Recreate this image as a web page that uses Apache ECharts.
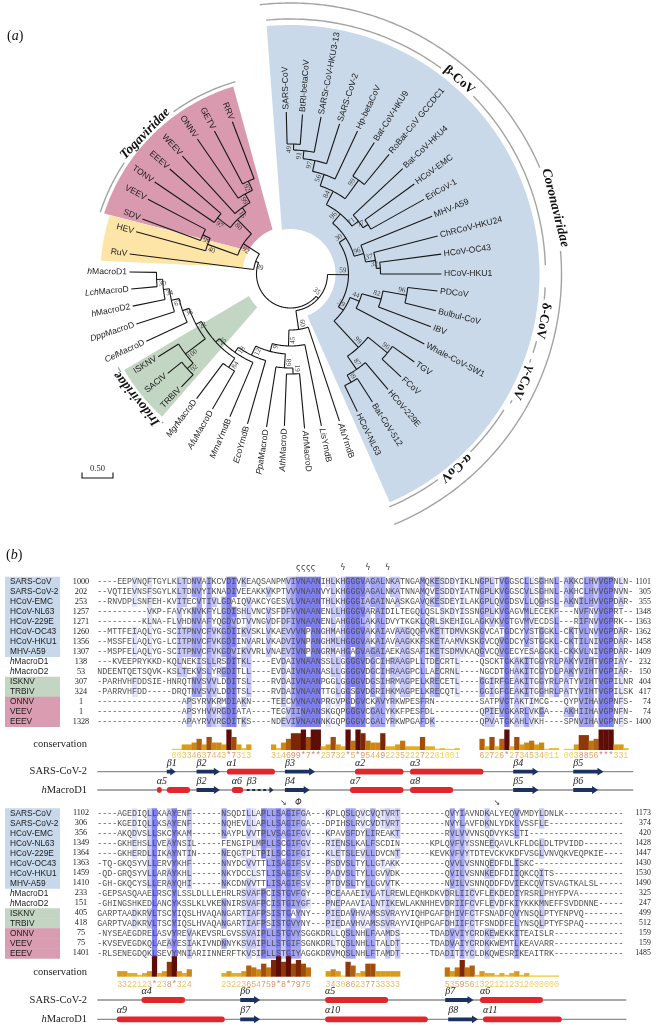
<!DOCTYPE html>
<html>
<head>
<meta charset="utf-8">
<script src="https://cdn.jsdelivr.net/npm/echarts@6.0.0/dist/echarts.min.js"></script>
<style>
html,body{margin:0;padding:0;background:#fff;}
#chart{width:656px;height:1026px;}
</style>
</head>
<body>
<div id="chart"></div>
<script>
// ================= Panel (a): phylogenetic tree data =================
const leafNames = ['SARS-CoV','BtRl-betaCoV','SARSr-CoV-HKU3-13','SARS-CoV-2','Hp-betaCoV','Bat-CoV-HKU9','RoBat-CoV GCCDC1','Bat-CoV-HKU4','HCoV-EMC','EriCoV-1','MHV-A59','ChRCoV-HKU24','HCoV-OC43','HCoV-HKU1','PDCoV','Bulbul-CoV','IBV','Whale-CoV-SW1','TGV','FCoV','HCoV-229E','Bat-CoV-512','HCoV-NL63','AfuYmdB','LisYmdB','AtrMacroD','AthMacroD','PpaMacroD','EcoYmdB','MmaYmdB','AfuMacroD','MgrMacroD','TRBIV','SACIV','ISKNV','CelMacroD','DppMacroD','hMacroD2','LchMacroD','hMacroD1','RuV','HEV','SDV','VEEV','TONV','EEEV','WEEV','ONNV','GETV','RRV'];
const leafAngles = [91.5,85.7,79,71.9,64.9,57.5,50.5,43.2,36,29.2,22.2,14.5,7.5,0,-6.6,-14.2,-20.6,-27.6,-35.4,-42.9,-49.8,-57.4,-64.1,-71.6,-78.5,-84.8,-92.3,-98.9,-106,-113,-120,-127,-134,-141,-148,-155,-162,-168.5,-174.6,-180.7,-187.1,-195.3,-200.4,-207.7,-214.1,-221,-227.5,-235.4,-242,-249.1];
const leafDepths = [162,160,160,158,158,156,155,154,153,153,153,152,152,151,148,150,150,151,152,151,151,152,153,155,155,155,152,155,156,155,156,156,157,158,156,159,162,161,160,161,162,160,158,161,164,160,160,164,162,163];

const nodeIds = ['n49','n91','n97','n56','n99b','n84b','n77','n71','n96a','n32','n37','n96b','n30','n96d','n82','n44','n96g','n69','n87','n99a','n39c','n59',
 'n30m','n34','n67','n36','n92i','n100','n22','n84m','n25','n18','n12','n19','n68','n9','n45','n60','n35',
 'n92a','n99t','n15','n97t','n80','n99s','n40','n92b','n39','root'];
const nodeDepths = [130,124,116,105,116,93,92,86,78,90,86,76,66,118,94,74,125,124,116,100,64,58,
 134,128,122,114,140,132,107,112,101,96,90,100,94,80,72,56,37,
 102,92,82,92,76,96,88,56,37,34];
const nodeChildren = [
 ['SARS-CoV','BtRl-betaCoV'],['n49','SARSr-CoV-HKU3-13'],['n91','SARS-CoV-2'],['n97','Hp-betaCoV'],['Bat-CoV-HKU9','RoBat-CoV GCCDC1'],['n56','n99b'],['HCoV-EMC','EriCoV-1'],['Bat-CoV-HKU4','n77'],['n84b','n71'],['HCoV-OC43','HCoV-HKU1'],['ChRCoV-HKU24','n32'],['MHV-A59','n37'],['n96a','n96b'],
 ['PDCoV','Bulbul-CoV'],['n96d','IBV'],['n82','Whale-CoV-SW1'],['TGV','FCoV'],['Bat-CoV-512','HCoV-NL63'],['HCoV-229E','n69'],['n96g','n87'],['n44','n99a'],['n30','n39c'],
 ['hMacroD1','LchMacroD'],['n30m','hMacroD2'],['n34','DppMacroD'],['n67','CelMacroD'],['SACIV','TRBIV'],['ISKNV','n92i'],['n36','n100'],['MgrMacroD','AfuMacroD'],['n22','n84m'],['n25','MmaYmdB'],['n18','EcoYmdB'],['AthMacroD','AtrMacroD'],['PpaMacroD','n19'],['n12','n68'],['n9','LisYmdB'],['n45','AfuYmdB'],['n60','n59'],
 ['GETV','RRV'],['ONNV','n92a'],['WEEV','n99t'],['TONV','EEEV'],['n97t','n15'],['SDV','VEEV'],['HEV','n99s'],['n40','n80'],['RuV','n92b'],['n39','n35']];
const nodeSupport = [49,91,97,56,99,84,77,71,96,32,37,96,30,96,82,44,96,69,87,99,39,59,
 30,34,67,36,92,100,22,84,25,18,12,19,68,9,45,60,35,
 92,99,15,97,80,99,40,92,39,null];

// clade shading (angles in degrees, radii in branch-depth units)
const shadeNames = ['Coronaviridae','Togaviridae','HEV/RuV','Iridoviridae'];
const shadeInnerR = [45,48,48,47];
const shadeOuterR = [249,196,190,192];
const shadeInnerFrom = [-68,-248,-209,-152];
const shadeInnerTo = [101,-209,-188,-135];
const shadeOuterFrom = [-66.5,-253,-198,-150];
const shadeOuterTo = [95.5,-198,-184,-132];

// clade bars / captions
const cladeNames = ['β-CoV','δ-CoV','γ-CoV','α-CoV','Coronaviridae','Togaviridae','Iridoviridae'];
const cladeRadius = [255,255,255,253,271,200,196];
const cladeFrom = [2,-18,-30.5,-67,-67.5,-254,-150];
const cladeTo = [95.5,-3,-19.5,-32.5,96.5,-198,-131];
const cladeLabelAngle = [49,-10.5,-25,-49.5,14,-224,-141];

// ================= Panel (b): alignment data =================
const seqNames = ['SARS-CoV','SARS-CoV-2','HCoV-EMC','HCoV-NL63','HCoV-229E','HCoV-OC43','HCoV-HKU1','MHV-A59','hMacroD1','hMacroD2','ISKNV','TRBIV','ONNV','VEEV','EEEV'];
const seqGroups = ['cov','cov','cov','cov','cov','cov','cov','cov','host','host','irido','irido','alpha','alpha','alpha'];
const block1Start = [1000,202,253,1257,1271,1260,1356,1307,138,53,307,324,1,1,1328];
const block1End = [1101,305,355,1348,1363,1362,1458,1409,232,150,404,417,74,74,1400];
const block1Seqs = [
'----EEPVNQFTGYLKLTDNVAIKCVDIVKEAQSANPMVIVNAANIHLKHGGGVAGALNKATNGAMQKESDDYIKLNGPLTVGGSCLLSGHNL-AKKCLHVVGPNLN-',
'--VQTIEVNSFSGYLKLTDNVYIKNADIVEEAKKVKPTVVVNAANVYLKHGGGVAGALNKATNNAMQVESDDYIATNGPLKVGGSCVLSGHNL-AKHCLHVVGPNVN-',
'--RNVDPLSNFEH-KVITECVTIVLGDAIQVAKCYGESVLVNAANTHLKHGGGIAGAINAASKGAVQKESDEYILAKGPLQVGDSVLLQGHSL-AKNILHVVGPDAR-',
'----------VKP-FAVYKNVKFYLGDISHLVNCVSFDFVVNAANENLLHGGGVARAIDILTEGQLQSLSKDYISSNGPLKVGAGVMLECEKF---NVFNVVGPRT--',
'---------KLNA-FLVHDNVAFYQGDVDTVVNGVDFDFIVNAANENLAHGGGLAKALDVYTKGKLQRLSKEHIGLAGKVKVGTGVMVECDSL---RIFNVVGPRK--',
'--MTTFEIAQLYG-SCITPNVCFVKGDIIKVSKLVKAEVVVNPANGHMAHGGGVAKAIAVAAGQQFVKETTDMVKSKGVCATGDCYVSTGGKL-CKTVLNVVGPDAR-',
'--MSSFELAQLYG-LCITPNVCFVKGDIINVARLVKADVIVNPANGHMLHGGGVAKAIAVAAGKKFSKETAAMVKSKGVCQVGDCYVSTGGKL-CKTILNIVGPDAR-',
'--MSPFELAQLYG-SCITPNVCFVKGDVIKVVRLVNAEVIVNPANGRMAHGAGVAGAIAEKAGSAFIKETSDMVKAQGVCQVGECYESAGGKL-CKKVLNIVGPDAR-',
'---KVEEPRYKKD-KQLNEKISLLRSDITKL----EVDAIVNAANSSLLGGGGVDGCIHRAAGPLLTDECRTL----QSCKTGKAKITGGYRLPAKYVIHTVGPIAY-',
'NDEENTQETSQVK-KSLTEKVSLYRGDITLL----EVDAIVNAANASLLGGGGVDGCIHRAAGPCLLAECRNL----NGCDTGHAKITCGYDLPAKYVIHTVGPIAR-',
'-PARHVHFDDSIE-HNRQTNVSVVLDDITSL----RVDAIVNAANPGGLGGGGVDGSIHRMAGPELKRECETL----GGIRFGEAKITGGYRLPATYVIHTVGPILNR',
'-PARRVHFDD-----DRQTNVSVVLDDITSL----RVDAIVNAANTTGLGGSGVDGRIHKMAGPELKRECQTL----GGIGFGEAKITGGHRLPATYVIHTVGPILSK',
'-----------------APSYRVKRMDIAKN----TEECVVNAANPRGVPGDGVCKAVYRKWPESFRN---------SATPVGTAKTIMCG---QYPVIHAVGPNFS-',
'-----------------APSYHVVRGDIATA----TEGVIINAANSKGQPGGGVCGALYKKFPESFDL---------QPIEVGKARLVKGA---AKHIIHAVGPNFN-',
'-----------------APAYRVVRGDITKS----NDEVIVNAANNKGQPGGGVCGALYRKWPGAFDK---------QPVATGKAHLVKH----SPNVIHAVGPNFS-'];
const block2Start = [1102,306,356,1349,1364,1363,1459,1410,233,151,405,418,75,75,1401];
const block2End = [1173,374,420,1428,1447,1430,1530,1490,325,247,499,512,159,159,1485];
const block2Seqs = [
'----AGEDIQLLKAAYENF------NSQDILLAPLLSAGIFGA---KPLQSLQVCVQTVRT---------QVYIAVNDKALYEQVVMDYLDNLK------------',
'----KGEDIQLLKSAYENF------NQHEVLLAPLLSAGIFGA---DPIHSLRVCVDTVRT---------NVYLAVFDKNLYDKLVSSFLE---------------',
'----AKQDVSLLSKCYKAM------NAYPLVVTPLVSAGIFGV---KPAVSFDYLIREAKT---------RVLVVVNSQDVYKSLTI-------------------',
'----GKHEHSLLVEAYNSIL-----FENGIPLMPLLSCGIFGV---RIENSLKALFSCDIN------KPLQVFVYSSNEEQAVLKFLDGLDLTPVIDD--------',
'----GKHERDLLIKAYNTIN-----NEQGTPLTPILSCGIFGI---KLETSLEVLLDVCNT------KEVKVFVYTDTEVCKVKDFVSGLVNVQKVEQPKIE----',
'-TQ-GKQSYVLLERVYKHF------NNYDCVVTTLISAGIFSV---PSDVSLTYLLGTAKK---------QVVLVSNNQEDFDLISKC------------------',
'-QD-GRQSYVLLARAYKHL------NKYDCCLSTLISAGIFSV---PADVSLTYLLGVVDK---------QVILVSNNKEDFDIIQKCQITS--------------',
'-GH-GKQCYSLLERAYQHI------NKCDNVVTTLISAGIFSV---PTDVSLTYLLGVVTK---------NVILVSNNQDDFDVIEKCQVTSVAGTKALSL-----',
'-GEPSASQAAELRSCYLSSLDLLLEHRLRSVAFPCISTGVFGY---PCEAAAEIVLATLREWLEQHKDKVDRLIICVFLEKDEDIYRSRLPHYFPVA---------',
'-GHINGSHKEDLANCYKSSLKLVKENNIRSVAFPCISTGIYGF---PNEPAAVIALNTIKEWLAKNHHEVDRIIFCVFLEVDFKIYKKKMNEFFSVDDNNE-----',
'GARPTAADKRVLTSCYIQSLHVAQANGARTIAFPSISTGAYNY---PIEDAVHVAMSSVRAYVIQHPGAFDHIVFCTFSNADFQVYNSQLPTYFNPVQ--------',
'GARPTVADKRVLTSCYIQSLHVAQANGARTIAFPSISTGVYNY---PIEDAVHVAMSSVRAYVIQHPGAFDHIIFCTFSNDDFELYNSQLPTYFSPAQ--------',
'-NYSEAEGDRELASVYREVAKEVSRLGVSSVAIPLLSTGVYSGGKDRLLQSLNHLFAAMDS------TDADVVIYCRDKEWEKKITEAISLR--------------',
'-KVSEVEGDKQLAEAYESIAKIVNDNNYKSVAIPLLSTGIFSGNKDRLTQSLNHLLTALDT------TDADVAIYCRDKKWEMTLKEAVARR--------------',
'-RLSENEGDQKLSEVYMNIARIINNERFTKVSIPLLSTGIYAGGKDRVMQSLNHLFTAMDT------TDADITIYCLDKQWESRIKEAITRK--------------'];
// conservation scores: [first column, score string]
const consBlock1 = [[15,'00334637443*7313'],[35,'314699*7**23732*5*95449223522272201001'],[77,'62726*2734534011'],[94,'0038856***331']];
const consBlock2 = [[4,'3322123*238*324'],[25,'23223654759*8*7975'],[46,'343086237733333'],[70,'53595613221212312000000']];
// secondary structure: [track, type, start column, end column, label]
const ssRowNames = ['SARS-CoV-2','hMacroD1'];
const ssBlock1 = [
 [0,'E',14.0,15.8,'β1'],[0,'E',20.0,24.7,'β2'],[0,'H',26.1,35.8,'α1'],[0,'E',37.8,43.9,'β3'],[0,'H',51.9,61.7,'α2'],[0,'H',63.0,77.8,'α3'],[0,'E',83.8,88.9,'β4'],[0,'E',95.9,102.0,'β5'],
 [1,'H',12.0,13.0,'α5'],[1,'H',14.0,18.7,''],[1,'E',20.0,24.7,'β2'],[1,'H',27.1,29.4,'α6'],[1,'D',30.1,35.5,'β3'],[1,'E',37.8,42.8,'β4'],[1,'H',50.9,61.7,'α7'],[1,'H',63.0,71.7,'α8'],[1,'E',83.8,88.9,'β5'],[1,'E',95.9,100.9,'β6']];
const ssBlock2 = [
 [0,'H',8.9,17.7,'α4'],[0,'E',28.8,32.8,'β6'],[0,'H',45.9,58.6,'α5'],[0,'E',70.1,75.8,'β7'],[0,'H',77.1,89.8,'α6'],
 [1,'H',3.9,25.7,'α9'],[1,'E',28.8,32.8,'β7'],[1,'H',45.9,66.6,'α10'],[1,'E',70.7,76.7,'β8'],[1,'H',77.7,93.6,'α11']];
// binding-site marks above the alignment: [column, symbol]
const marksBlock1 = [[40,'ς'],[41,'ς'],[42,'ς'],[43,'ς'],[49,'ϟ'],[54,'ϟ'],[58,'ϟ']];
const marksBlock2 = [[37,'↘'],[40,'Φ'],[80,'↘']];

// ================= styles =================
const SANS = '"Liberation Sans", Arial, sans-serif';
const SERIF = '"Liberation Serif", "Times New Roman", serif';
const MONO = '"Liberation Mono", "DejaVu Sans Mono", monospace';
const SHADE_FILL = ['#c9d9ea','#d99aaf','#fde4a7','#c3d6c3'];
const BOX_FILL = {cov:'#c6d8ea', irido:'#c3d6c3', alpha:'#d99cb1'};
const PID_FILL = [null,'#e1e1fb','#c6c6f8','#a3a3f3','#7e7eee'];
const BAR_FILL = ['#f0c832','#ebbd2a','#e3ae22','#d99c1a','#cd8814','#c07410','#b0600e','#a04c0c','#8e380a','#7c2608','#6c1606','#5e0c06'];
const italicPrefix = {hMacroD1:1,hMacroD2:1,LchMacroD:3,DppMacroD:3,CelMacroD:3,MgrMacroD:3,AfuMacroD:3,MmaYmdB:3,EcoYmdB:3,PpaMacroD:3,AthMacroD:3,AtrMacroD:3,LisYmdB:3,AfuYmdB:3};
const cladeItalic = {Coronaviridae:true,Togaviridae:true,Iridoviridae:true};

function richText(name){
  const k = italicPrefix[name];
  return k ? '{i|' + name.slice(0,k) + '}{n|' + name.slice(k) + '}' : '{n|' + name + '}';
}
function richStyle(family, size, color){
  return {i:{fontStyle:'italic', fontFamily:family, fontSize:size, fill:color}, n:{fontFamily:family, fontSize:size, fill:color}};
}
const mctx = document.createElement('canvas').getContext('2d');
function textW(t, font){ mctx.font = font; return mctx.measureText(t).width; }

// ================= tree layout helpers =================
const leafIndex = {}; leafNames.forEach((n,i)=>{leafIndex[n]=i;});
const nodeIndex = {}; nodeIds.forEach((n,i)=>{nodeIndex[n]=i;});
const angleCache = {};
function angleOf(id){
  if (id in leafIndex) return leafAngles[leafIndex[id]];
  if (angleCache[id] !== undefined) return angleCache[id];
  const a = nodeChildren[nodeIndex[id]].map(angleOf);
  angleCache[id] = (Math.min.apply(null,a) + Math.max.apply(null,a)) / 2;
  return angleCache[id];
}
function depthOf(id){ return (id in leafIndex) ? leafDepths[leafIndex[id]] : nodeDepths[nodeIndex[id]]; }
function arcPts(api, r, a1, a2){
  const n = Math.max(2, Math.ceil(Math.abs(a2-a1)/0.7)+1), pts = [];
  for (let i=0;i<n;i++) pts.push(api.coord([r, a1+(a2-a1)*i/(n-1)]));
  return pts;
}
function radial(a){
  const n = ((a % 360) + 540) % 360 - 180;
  const right = n > -90 && n <= 95;
  const rot = right ? n : (n > 0 ? n - 180 : n + 180);
  return {right:right, rot:rot*Math.PI/180};
}

const polarBase = {type:'custom', coordinateSystem:'polar', silent:true, animation:false};

const shadeSeries = Object.assign({}, polarBase, {
  data: shadeNames.map((_,i)=>[0,0,i]),
  renderItem: function(p, api){
    const i = api.value(2);
    const pts = arcPts(api, shadeInnerR[i], shadeInnerFrom[i], shadeInnerTo[i])
      .concat(arcPts(api, shadeOuterR[i], shadeOuterTo[i], shadeOuterFrom[i]));
    return {type:'polygon', shape:{points:pts}, style:{fill:SHADE_FILL[i]}};
  }
});

const branchSeries = Object.assign({}, polarBase, {
  data: nodeIds.map((id,i)=>[nodeDepths[i], angleOf(id), i]),
  renderItem: function(p, api){
    const i = api.value(2), r = nodeDepths[i], kids = nodeChildren[i];
    const angs = kids.map(angleOf);
    const st = {stroke:'#161616', lineWidth:1.1, fill:null};
    const ch = [{type:'polyline', shape:{points:arcPts(api, r, Math.min.apply(null,angs), Math.max.apply(null,angs))}, style:st}];
    kids.forEach(function(k, j){
      const a = api.coord([r, angs[j]]), b = api.coord([depthOf(k), angs[j]]);
      ch.push({type:'line', shape:{x1:a[0], y1:a[1], x2:b[0], y2:b[1]}, style:st});
    });
    return {type:'group', children:ch};
  }
});

const leafLabelSeries = Object.assign({}, polarBase, {
  data: leafNames.map((n,i)=>[leafDepths[i], leafAngles[i], i]),
  renderItem: function(p, api){
    const i = api.value(2), a = leafAngles[i], R = radial(a);
    const pt = api.coord([leafDepths[i] + 2.5, a]);
    return {type:'text', x:pt[0], y:pt[1], rotation:R.rot,
      style:{text:richText(leafNames[i]), rich:richStyle(SANS, 8.6, '#1c1c1c'), align:R.right?'left':'right', verticalAlign:'middle'}};
  }
});

const supportSeries = Object.assign({}, polarBase, {
  data: nodeIds.map((id,i)=>[nodeDepths[i], angleOf(id), i]).filter(d=>nodeSupport[d[2]] !== null),
  renderItem: function(p, api){
    const i = api.value(2), a = angleOf(nodeIds[i]), r = nodeDepths[i] - 5.5;
    const off = 4.3 / Math.max(r, 10) * 180 / Math.PI;
    const R = radial(a);
    const pt = api.coord([r, a + off]);
    return {type:'text', x:pt[0], y:pt[1], rotation:R.rot,
      style:{text:String(nodeSupport[i]), fontFamily:SERIF, fontSize:7.2, fill:'#3a3a3a', align:'center', verticalAlign:'middle'}};
  }
});

const cladeSeries = Object.assign({}, polarBase, {
  data: cladeNames.map((_,i)=>[cladeRadius[i], cladeLabelAngle[i], i]),
  renderItem: function(p, api){
    const i = api.value(2), R = cladeRadius[i], ac = cladeLabelAngle[i];
    const name = cladeNames[i], ital = !!cladeItalic[name], fs = ital ? 13.5 : 13;
    const font = (ital ? 'italic ' : '') + 'bold ' + fs + 'px ' + SERIF;
    const half = (textW(name, font)/2 + 3) / R * 180 / Math.PI;
    const st = {stroke:'#a3a3a3', lineWidth:1.4, fill:null};
    const pt = api.coord([R + 2, ac]);
    return {type:'group', children:[
      {type:'polyline', shape:{points:arcPts(api, R, cladeFrom[i], ac - half)}, style:st},
      {type:'polyline', shape:{points:arcPts(api, R, ac + half, cladeTo[i])}, style:st},
      {type:'text', x:pt[0], y:pt[1], rotation:(ac - 90)*Math.PI/180,
        style:{text:name, fontFamily:SERIF, fontSize:fs, fontWeight:'bold', fontStyle:ital?'italic':'normal', fill:'#111', align:'center', verticalAlign:'middle'}}
    ]};
  }
});

// ================= alignment helpers =================
const GROUPS = ['ILVMF','FYW','KRH','DE','ST','NQ'];
function computeLevels(seqs){
  const n = seqs.length, L = Math.max.apply(null, seqs.map(s=>s.length));
  const out = seqs.map(()=>new Array(L).fill(0));
  for (let c=0;c<L;c++){
    const cnt = {};
    for (let r=0;r<n;r++){ const ch = seqs[r][c]; if (ch && ch !== '-') cnt[ch] = (cnt[ch]||0) + 1; }
    for (let r=0;r<n;r++){
      const ch = seqs[r][c]; if (!ch || ch === '-') continue;
      const fid = cnt[ch]/n; let fg = fid;
      GROUPS.forEach(function(g){
        if (g.indexOf(ch) >= 0){ let s = 0; for (const k in cnt) if (g.indexOf(k) >= 0) s += cnt[k]; if (s/n > fg) fg = s/n; }
      });
      let lv = 0;
      if (fid >= 0.8) lv = 4; else if (fid >= 0.6 || fg >= 0.85) lv = 3; else if (fid >= 0.4 || fg >= 0.6) lv = 2; else if (fg >= 0.45) lv = 1;
      out[r][c] = lv;
    }
  }
  return out;
}
function mix(c1, c2, t){
  const a = [1,3,5].map(k=>parseInt(c1.substr(k,2),16)), b = [1,3,5].map(k=>parseInt(c2.substr(k,2),16));
  return 'rgb(' + a.map((v,k)=>Math.round(v + (b[k]-v)*t)).join(',') + ')';
}
function digitColor(v){ return v <= 5 ? mix('#f3d65a', '#e6ac62', v/5) : mix('#e6ac62', '#d57c72', (v-5)/6); }

const BLOCKS = [
  {seqs:block1Seqs, starts:block1Start, ends:block1End, cons:consBlock1, ss:ssBlock1, marks:marksBlock1,
   cols:108, top:576.7, ymax:22, consBase:17.33, consText:17.88, consLabel:16.73, ssY:[19.5,21.33], ssEnd:108, markY:-0.9},
  {seqs:block2Seqs, starts:block2Start, ends:block2End, cons:consBlock2, ss:ssBlock2, marks:marksBlock2,
   cols:106, top:808.3, ymax:21.7, consBase:16.84, consText:17.62, consLabel:16.44, ssY:[19.17,21.1], ssEnd:106.6, markY:-0.55}
];
BLOCKS.forEach(B=>{ B.levels = computeLevels(B.seqs); });
const COLW = 4.963;

function gridBase(gi){ return {type:'custom', coordinateSystem:'cartesian2d', xAxisIndex:gi, yAxisIndex:gi, clip:false, silent:true, animation:false}; }

function cellSeries(gi){
  const B = BLOCKS[gi], data = [];
  B.seqs.forEach((s,r)=>{ for (let c=0;c<s.length;c++) data.push([c, r]); });
  return Object.assign(gridBase(gi), {data:data, renderItem:function(p, api){
    const c = api.value(0), r = api.value(1);
    const tl = api.coord([c, r]), br = api.coord([c+1, r+1]);
    const lv = B.levels[r][c], kids = [];
    if (lv > 0) kids.push({type:'rect', shape:{x:tl[0], y:tl[1], width:br[0]-tl[0]+0.35, height:br[1]-tl[1]+0.35}, style:{fill:PID_FILL[lv]}});
    kids.push({type:'text', x:(tl[0]+br[0])/2, y:(tl[1]+br[1])/2 + 0.4,
      style:{text:B.seqs[r][c], fontFamily:MONO, fontSize:8.3, fill:'#505050', align:'center', verticalAlign:'middle'}});
    return {type:'group', children:kids};
  }});
}
function rowLabelSeries(gi){
  const B = BLOCKS[gi];
  return Object.assign(gridBase(gi), {data:seqNames.map((_,r)=>[0, r, r]), renderItem:function(p, api){
    const r = api.value(2), tl = api.coord([0, r]), bl = api.coord([0, r+1]);
    const yc = (tl[1]+bl[1])/2, x0 = tl[0], xe = api.coord([108, r])[0];
    const kids = [];
    const g = BOX_FILL[seqGroups[r]];
    if (g) kids.push({type:'rect', shape:{x:x0-92.3, y:tl[1], width:55, height:bl[1]-tl[1]+0.4}, style:{fill:g}});
    kids.push({type:'text', x:x0-87.3, y:yc, style:{text:richText(seqNames[r]), rich:richStyle(SANS, 8.3, '#1a1a1a'), align:'left', verticalAlign:'middle'}});
    kids.push({type:'text', x:x0-16.3, y:yc, style:{text:String(B.starts[r]), fontFamily:SERIF, fontSize:8.2, fill:'#222', align:'center', verticalAlign:'middle'}});
    kids.push({type:'text', x:xe+17.5, y:yc, style:{text:String(B.ends[r]), fontFamily:SERIF, fontSize:7.8, fill:'#222', align:'right', verticalAlign:'middle'}});
    return {type:'group', children:kids};
  }});
}
function consSeries(gi){
  const B = BLOCKS[gi], data = [];
  B.cons.forEach(function(g){ for (let j=0;j<g[1].length;j++){ const ch = g[1][j]; data.push([g[0]+j, ch === '*' ? 11 : (ch === '+' ? 10 : Number(ch))]); } });
  return Object.assign(gridBase(gi), {data:data, renderItem:function(p, api){
    const c = api.value(0), v = api.value(1);
    const base = api.coord([c, B.consBase]), rt = api.coord([c+1, B.consBase]);
    const unit = api.coord([c, B.consBase + 1])[1] - base[1];
    const h = Math.max(1.2, v/11 * 2.05 * unit);
    const ty = api.coord([c, B.consText])[1];
    return {type:'group', children:[
      {type:'rect', shape:{x:base[0], y:base[1]-h, width:rt[0]-base[0]+0.3, height:h}, style:{fill:BAR_FILL[v]}},
      {type:'text', x:(base[0]+rt[0])/2, y:ty, style:{text:v === 11 ? '*' : String(v), fontFamily:MONO, fontSize:8.3, fill:digitColor(v), align:'center', verticalAlign:'middle'}}
    ]};
  }});
}
function ssBaseSeries(gi){
  const B = BLOCKS[gi];
  return Object.assign(gridBase(gi), {data:[[0, B.ssY[0], 0],[0, B.ssY[1], 1],[0, B.consLabel, 2]], renderItem:function(p, api){
    const k = api.value(2), x0 = api.coord([0, 0])[0];
    if (k === 2){
      const y = api.coord([0, B.consLabel])[1];
      return {type:'text', x:x0-10.3, y:y, style:{text:'conservation', fontFamily:SERIF, fontSize:10.5, fill:'#222', align:'right', verticalAlign:'middle'}};
    }
    const y = api.coord([0, B.ssY[k]])[1], x1 = api.coord([B.ssEnd, 0])[0];
    return {type:'group', children:[
      {type:'line', shape:{x1:x0, y1:y, x2:x1, y2:y}, style:{stroke:'#8d8d8d', lineWidth:1.3}},
      {type:'text', x:x0-10.3, y:y, style:{text:richText(ssRowNames[k]), rich:richStyle(SERIF, 10.5, '#1a1a1a'), align:'right', verticalAlign:'middle'}}
    ]};
  }});
}
function ssSeries(gi){
  const B = BLOCKS[gi], list = B.ss;
  return Object.assign(gridBase(gi), {data:list.map((e,j)=>[e[2], B.ssY[e[0]], j]), renderItem:function(p, api){
    const e = list[api.value(2)];
    const y = api.coord([0, B.ssY[e[0]]])[1], xs = api.coord([e[2], 0])[0], xe = api.coord([e[3], 0])[0];
    const navy = '#1c3160', kids = [];
    if (e[1] === 'H'){
      kids.push({type:'rect', shape:{x:xs, y:y-2.9, width:xe-xs, height:5.8, r:2.9}, style:{fill:'#e2262b'}});
    } else if (e[1] === 'E'){
      const hl = Math.min(6, (xe-xs)*0.6);
      kids.push({type:'polygon', shape:{points:[[xs,y-1.9],[xe-hl,y-1.9],[xe-hl,y-3.9],[xe,y],[xe-hl,y+3.9],[xe-hl,y+1.9],[xs,y+1.9]]}, style:{fill:navy}});
    } else {
      kids.push({type:'line', shape:{x1:xs, y1:y, x2:xe-4, y2:y}, style:{stroke:navy, lineWidth:2, lineDash:[3,2.5]}});
      kids.push({type:'polygon', shape:{points:[[xe-4,y-3.2],[xe,y],[xe-4,y+3.2]]}, style:{fill:navy}});
    }
    if (e[4]) kids.push({type:'text', x:xs, y:y-8.6, style:{text:e[4], fontFamily:SERIF, fontStyle:'italic', fontSize:10, fill:'#1a1a1a', align:'left', verticalAlign:'middle'}});
    return {type:'group', children:kids};
  }});
}
function markSeries(gi){
  const B = BLOCKS[gi];
  return Object.assign(gridBase(gi), {data:B.marks.map((m,j)=>[m[0], B.markY, j]), renderItem:function(p, api){
    const m = B.marks[api.value(2)];
    const a = api.coord([m[0], B.markY]), b = api.coord([m[0]+1, B.markY]);
    return {type:'text', x:(a[0]+b[0])/2, y:a[1], style:{text:m[1], fontFamily:'"DejaVu Sans", sans-serif', fontSize:m[1] === 'Φ' ? 8.5 : 8, fontStyle:m[1] === 'Φ' ? 'italic' : 'normal', fill:'#333', align:'center', verticalAlign:'middle'}};
  }});
}

// ================= chart =================
const chart = echarts.init(document.getElementById('chart'), null, {renderer:'canvas', width:656, height:1026});
const option = {
  animation:false,
  backgroundColor:'#ffffff',
  polar:{center:[290.5, 274], radius:[0, 280]},
  angleAxis:{type:'value', min:-255, max:105, startAngle:105, clockwise:false, show:false},
  radiusAxis:{type:'value', min:0, max:280, show:false},
  grid:[
    {left:97.3, top:BLOCKS[0].top, width:BLOCKS[0].cols*COLW, height:BLOCKS[0].ymax*10, show:false},
    {left:97.3, top:BLOCKS[1].top, width:BLOCKS[1].cols*COLW, height:BLOCKS[1].ymax*10, show:false}
  ],
  xAxis:[
    {gridIndex:0, type:'value', min:0, max:BLOCKS[0].cols, show:false},
    {gridIndex:1, type:'value', min:0, max:BLOCKS[1].cols, show:false}
  ],
  yAxis:[
    {gridIndex:0, type:'value', min:0, max:BLOCKS[0].ymax, inverse:true, show:false},
    {gridIndex:1, type:'value', min:0, max:BLOCKS[1].ymax, inverse:true, show:false}
  ],
  graphic:[
    {type:'text', left:7, top:29, style:{text:'({i|a})', rich:{i:{fontStyle:'italic', fontFamily:SERIF, fontSize:14, fill:'#111'}}, fontFamily:SERIF, fontSize:14, fill:'#111'}},
    {type:'text', left:6, top:548, style:{text:'({i|b})', rich:{i:{fontStyle:'italic', fontFamily:SERIF, fontSize:14, fill:'#111'}}, fontFamily:SERIF, fontSize:14, fill:'#111'}},
    {type:'polyline', shape:{points:[[82,472.5],[82,478],[113,478],[113,472.5]]}, style:{stroke:'#111', lineWidth:1.1, fill:null}},
    {type:'text', x:97.5, y:469, style:{text:'0.50', fontFamily:SERIF, fontSize:8.5, fill:'#222', align:'center', verticalAlign:'middle'}}
  ],
  series:[
    shadeSeries, cladeSeries, branchSeries, supportSeries, leafLabelSeries,
    cellSeries(0), rowLabelSeries(0), consSeries(0), ssBaseSeries(0), ssSeries(0), markSeries(0),
    cellSeries(1), rowLabelSeries(1), consSeries(1), ssBaseSeries(1), ssSeries(1), markSeries(1)
  ]
};
chart.setOption(option);
</script>
</body>
</html>
